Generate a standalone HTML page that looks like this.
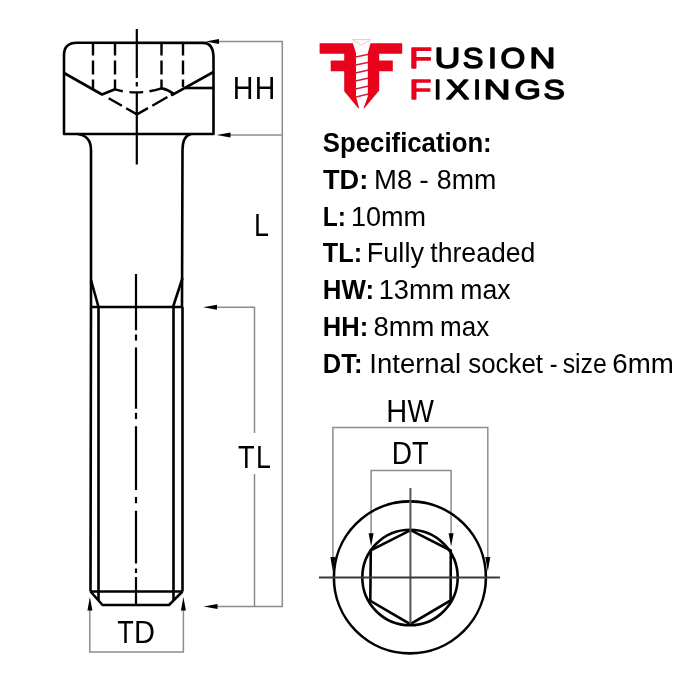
<!DOCTYPE html>
<html><head><meta charset="utf-8">
<style>
html,body{margin:0;padding:0;background:#fff;}
body{width:700px;height:700px;overflow:hidden;}
svg{display:block;will-change:transform;}
text{font-family:"Liberation Sans",sans-serif;}
</style></head>
<body>
<svg width="700" height="700" viewBox="0 0 700 700">
<rect width="700" height="700" fill="#fff"/>

<!-- ===== Bolt side view ===== -->
<g fill="none" stroke="#000" stroke-width="2.6" stroke-linejoin="round" stroke-linecap="butt">
  <!-- head outline -->
  <path d="M64,134 L64,55 Q64,42.8 77,42.8 L203,42.9 Q213.5,42.9 213.5,58 L213.5,134 Z"/>
  <!-- neck fillets + shank -->
  <path d="M78,134 Q91,136 91,150 L91,307"/>
  <path d="M191,134 Q182.5,136 182.5,150 L182,307"/>
  <!-- transition line -->
  <path d="M91,280 L98.5,307 M182.5,278 L173,307"/>
  <path d="M91,307 L182.5,307"/>
  <!-- thread section -->
  <path d="M91,307 L90.5,591.5 M182.5,307 L182.5,591.5"/>
  <path d="M98.5,307 L98.5,600 M173.5,307 L173.5,600"/>
  <path d="M90.5,591.5 L182.5,591.5"/>
  <path d="M90.5,591.5 L102.5,605 L169,605 L182.5,591.5"/>
  <!-- socket cone solid -->
  <path d="M64,73 L102,94.5 L115,89.3"/>
  <path d="M213.5,72 L171.4,95.4"/>
  <path d="M161.4,88.3 Q168,89.5 173.5,93.8"/>
  <path d="M185,88 L213.5,88"/>
</g>
<!-- dashed hidden lines -->
<g fill="none" stroke="#000" stroke-width="2.4" stroke-linecap="butt">
  <path d="M93,42.5 L93,89" stroke-dasharray="13 5 14 5 20"/>
  <path d="M115,42.5 L115,89.3" stroke-dasharray="13 5 14 5 20"/>
  <path d="M161.5,42.5 L161.5,89.3" stroke-dasharray="13 5 14 5 20"/>
  <path d="M183,42.5 L183,87" stroke-dasharray="13 5 14 5 20"/>
  <path d="M115,89.3 Q137,96 161.4,88.3" stroke-dasharray="8 6.8 13.7 6.3 30"/>
  <path d="M102,94.5 L137,114.4" stroke-dasharray="0 7.7 15.2 4.9 20"/>
  <path d="M137,114.4 L172,94.4" stroke-dasharray="12.6 5 17.4 4 20"/>
</g>
<!-- centre line -->
<g fill="none" stroke="#000" stroke-width="2.2">
  <path d="M136.8,29 L136.8,78 M136.8,82 L136.8,86.5 M136.8,92 L136.8,164.6"/>
  <path d="M136,274 L136,330.2 M136,334.5 L136,340.4 M136,347.5 L136,408.8 M136,412.7 L136,419 M136,426.3 L136,489.9 M136,497 L136,503.3 M136,510.8 L136,563.6 M136,568.5 L136,573.1 M136,577 L136,605"/>
</g>

<!-- ===== Dimension lines (grey) ===== -->
<g fill="none" stroke="#8c8c8c" stroke-width="1.5">
  <path d="M218,41.4 L283,41.4"/>
  <path d="M230,134.9 L283,134.9"/>
  <path d="M282.3,41.4 L282.3,606.4"/>
  <path d="M216,307.3 L254.5,307.3 L254.5,606.4"/>
  <path d="M216,606.4 L283,606.4"/>
  <path d="M89.8,609 L89.8,652 L183.4,652 L183.4,609"/>
  <!-- end view -->
  <path d="M332.9,559 L332.9,427.4 L487.8,427.4 L487.8,559"/>
  <path d="M371.1,534 L371.1,470.4 L451.1,470.4 L451.1,534"/>
</g>
<!-- arrowheads -->
<g fill="#000">
  <polygon points="205.6,41.4 219,38.9 219,43.9"/>
  <polygon points="216.7,134.9 230.5,132.4 230.5,137.4"/>
  <polygon points="203.1,307.3 217,304.8 217,309.8"/>
  <polygon points="203.6,606.4 217.5,603.9 217.5,608.9"/>
  <polygon points="89.9,597 87.4,610.5 92.4,610.5"/>
  <polygon points="183.4,597 180.9,610.5 185.9,610.5"/>
  <polygon points="332.9,571.5 330.4,557 335.4,557"/>
  <polygon points="487.8,571.5 485.3,557 490.3,557"/>
  <polygon points="371.1,546.6 368.6,533.2 373.6,533.2"/>
  <polygon points="451.1,546.6 448.6,533.2 453.6,533.2"/>
</g>

<!-- end view circles -->
<g fill="none" stroke="#000" stroke-width="2.6">
  <circle cx="409.9" cy="577.4" r="76"/>
  <circle cx="410" cy="577.5" r="47.7"/>
  <polygon points="410.6,530.2 450.8,550.6 450.6,600.4 410.3,624.2 370.3,600.8 370.8,550.4" stroke-linejoin="miter"/>
</g>
<g fill="none" stroke-width="2">
  <path d="M410.4,488 L410.4,624" stroke="#555"/>
  <path d="M319,577.4 L500,577.4" stroke="#3a3a3a"/>
</g>

<!-- labels -->
<rect x="236" y="433" width="36" height="41" fill="#fff"/>
<g>
<text transform="translate(232.75,99.00) scale(0.9036,1.0000)" font-size="31.7" fill="#000">H</text>
<text transform="translate(254.67,99.00) scale(0.8979,1.0000)" font-size="31.7" fill="#000">H</text>
<text transform="translate(253.89,235.60) scale(0.8514,1.0000)" font-size="31.7" fill="#000">L</text>
<text transform="translate(238.09,467.90) scale(0.8592,1.0000)" font-size="31.7" fill="#000">T</text>
<text transform="translate(255.90,467.90) scale(0.8442,1.0000)" font-size="31.7" fill="#000">L</text>
<text transform="translate(117.29,642.90) scale(0.8536,1.0000)" font-size="31.7" fill="#000">T</text>
<text transform="translate(134.02,642.90) scale(0.9161,1.0000)" font-size="31.7" fill="#000">D</text>
<text transform="translate(386.32,422.00) scale(0.9149,1.0000)" font-size="31.7" fill="#000">H</text>
<text transform="translate(407.58,422.00) scale(0.8830,1.0000)" font-size="31.7" fill="#000">W</text>
<text transform="translate(391.80,463.80) scale(0.8841,1.0000)" font-size="31.7" fill="#000">D</text>
<text transform="translate(412.09,463.80) scale(0.8592,1.0000)" font-size="31.7" fill="#000">T</text>
</g>

<!-- ===== Logo ===== -->
<g>
  <polygon fill="#e9021b" points="319.6,43.2 402.2,43.2 402.2,53.8 379.2,53.8 379.2,60.4 392.8,60.4 392.8,71.3 379.2,71.3 379.2,90.5 364.3,108.3 358.2,108.3 344.2,91.2 344.2,71.3 330.7,71.3 330.7,60.4 344.2,60.4 344.2,53.8 319.6,53.8"/>
  <polygon fill="#fff" points="351.6,39.5 371.6,39.5 367.8,53 367.8,96.5 363.2,109 359.3,109 356,96.5 356,53"/>
  <path d="M352,39.6 L371.2,39.6 M353,40 L361.5,45 L370.5,40" stroke="#f3c4c8" stroke-width="1" fill="none"/>
  <g stroke="#d81e34" stroke-width="1.5" fill="none">
    <path d="M354.6,57.3 L368.6,54.2 M354.6,65.3 L368.6,62.2 M354.6,73.2 L368.6,70.1 M354.6,81.2 L368.6,78.1 M354.6,89.2 L368.6,86.1 M355.2,97.2 L368.2,94.1"/>
  </g>
</g>
<g>
<text transform="translate(409.05,68.35) scale(1.3219,1)" font-size="28.63" fill="#e9021b" stroke="#e9021b" stroke-width="1.5" stroke-linejoin="round" vector-effect="non-scaling-stroke">F</text>
<text transform="translate(434.48,68.35) scale(1.2546,1)" font-size="28.63" fill="#000" stroke="#000" stroke-width="1.5" stroke-linejoin="round" vector-effect="non-scaling-stroke">U</text>
<text transform="translate(462.85,68.35) scale(1.0798,1)" font-size="28.63" fill="#000" stroke="#000" stroke-width="1.5" stroke-linejoin="round" vector-effect="non-scaling-stroke">S</text>
<text transform="translate(488.08,68.35) scale(1.1234,1)" font-size="28.63" fill="#000" stroke="#000" stroke-width="1.5" stroke-linejoin="round" vector-effect="non-scaling-stroke">I</text>
<text transform="translate(500.44,68.35) scale(1.1102,1)" font-size="28.63" fill="#000" stroke="#000" stroke-width="1.5" stroke-linejoin="round" vector-effect="non-scaling-stroke">O</text>
<text transform="translate(529.15,68.35) scale(1.2754,1)" font-size="28.63" fill="#000" stroke="#000" stroke-width="1.5" stroke-linejoin="round" vector-effect="non-scaling-stroke">N</text>
<text transform="translate(409.16,99.15) scale(1.2849,1)" font-size="28.34" fill="#e9021b" stroke="#e9021b" stroke-width="1.5" stroke-linejoin="round" vector-effect="non-scaling-stroke">F</text>
<text transform="translate(434.37,99.15) scale(0.8701,1)" font-size="28.34" fill="#000" stroke="#000" stroke-width="1.5" stroke-linejoin="round" vector-effect="non-scaling-stroke">I</text>
<text transform="translate(446.07,99.15) scale(1.2279,1)" font-size="28.34" fill="#000" stroke="#000" stroke-width="1.5" stroke-linejoin="round" vector-effect="non-scaling-stroke">X</text>
<text transform="translate(473.38,99.15) scale(0.9079,1)" font-size="28.34" fill="#000" stroke="#000" stroke-width="1.5" stroke-linejoin="round" vector-effect="non-scaling-stroke">I</text>
<text transform="translate(483.47,99.15) scale(1.3264,1)" font-size="28.34" fill="#000" stroke="#000" stroke-width="1.5" stroke-linejoin="round" vector-effect="non-scaling-stroke">N</text>
<text transform="translate(514.44,99.15) scale(1.1998,1)" font-size="28.34" fill="#000" stroke="#000" stroke-width="1.5" stroke-linejoin="round" vector-effect="non-scaling-stroke">G</text>
<text transform="translate(543.60,99.15) scale(1.1277,1)" font-size="28.34" fill="#000" stroke="#000" stroke-width="1.5" stroke-linejoin="round" vector-effect="non-scaling-stroke">S</text>
</g>

<!-- ===== Specification text ===== -->
<g>
<text transform="translate(322.86,151.90) scale(0.9542,1.0000)" font-size="27" font-weight="bold" fill="#000">Specification:</text>
<text transform="translate(322.99,188.73) scale(1.0076,1.0000)" font-size="27" font-weight="bold" fill="#000">TD:</text>
<text transform="translate(374.05,188.73) scale(1.0170,1.0000)" font-size="27" fill="#000">M8</text>
<text transform="translate(419.23,188.73) scale(1.0619,1.0000)" font-size="27" fill="#000">-</text>
<text transform="translate(436.84,188.73) scale(0.9904,1.0000)" font-size="27" fill="#000">8mm</text>
<text transform="translate(322.85,225.56) scale(0.9108,1.0000)" font-size="27" font-weight="bold" fill="#000">L:</text>
<text transform="translate(351.04,225.56) scale(1.0003,1.0000)" font-size="27" fill="#000">10mm</text>
<text transform="translate(322.82,262.39) scale(0.9366,1.0000)" font-size="27" font-weight="bold" fill="#000">TL:</text>
<text transform="translate(366.78,262.39) scale(1.0030,1.0000)" font-size="27" fill="#000">Fully</text>
<text transform="translate(430.30,262.39) scale(0.9862,1.0000)" font-size="27" fill="#000">threaded</text>
<text transform="translate(322.77,299.22) scale(0.9582,1.0000)" font-size="27" font-weight="bold" fill="#000">HW:</text>
<text transform="translate(378.63,299.22) scale(1.0087,1.0000)" font-size="27" fill="#000">13mm</text>
<text transform="translate(460.33,299.22) scale(0.9852,1.0000)" font-size="27" fill="#000">max</text>
<text transform="translate(322.79,336.05) scale(0.9453,1.0000)" font-size="27" font-weight="bold" fill="#000">HH:</text>
<text transform="translate(373.51,336.05) scale(1.0150,1.0000)" font-size="27" fill="#000">8mm</text>
<text transform="translate(440.07,336.05) scale(0.9627,1.0000)" font-size="27" fill="#000">max</text>
<text transform="translate(322.79,372.88) scale(0.9463,1.0000)" font-size="27" font-weight="bold" fill="#000">DT:</text>
<text transform="translate(369.36,372.88) scale(1.0180,1.0000)" font-size="27" fill="#000">Internal</text>
<text transform="translate(468.28,372.88) scale(0.9587,1.0000)" font-size="27" fill="#000">socket</text>
<text transform="translate(549.86,372.88) scale(0.8647,1.0000)" font-size="27" fill="#000">-</text>
<text transform="translate(562.71,372.88) scale(0.9183,1.0000)" font-size="27" fill="#000">size</text>
<text transform="translate(612.29,372.88) scale(1.0255,1.0000)" font-size="27" fill="#000">6mm</text>
</g>
</svg>
</body></html>
